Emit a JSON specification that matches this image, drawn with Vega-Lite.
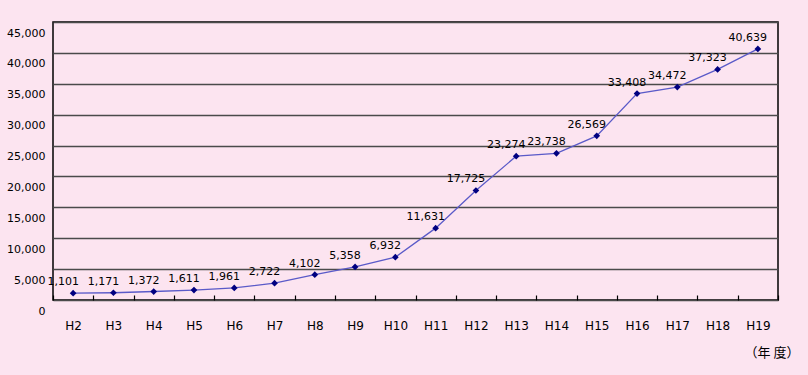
{
  "$schema": "https://vega.github.io/schema/vega-lite/v6.json",
  "width": 725,
  "height": 278,
  "autosize": {"type": "none"},
  "padding": {"left": 53, "top": 22, "right": 30, "bottom": 75},
  "background": "#FCE4F0",
  "config": {
    "font": "DejaVu Sans",
    "view": {"stroke": "#000000", "strokeWidth": 1.5, "fill": "#FCE4F0"}
  },
  "data": {
    "values": [
      {"year": "H2", "value": 1101},
      {"year": "H3", "value": 1171},
      {"year": "H4", "value": 1372},
      {"year": "H5", "value": 1611},
      {"year": "H6", "value": 1961},
      {"year": "H7", "value": 2722},
      {"year": "H8", "value": 4102},
      {"year": "H9", "value": 5358},
      {"year": "H10", "value": 6932},
      {"year": "H11", "value": 11631},
      {"year": "H12", "value": 17725},
      {"year": "H13", "value": 23274},
      {"year": "H14", "value": 23738},
      {"year": "H15", "value": 26569},
      {"year": "H16", "value": 33408},
      {"year": "H17", "value": 34472},
      {"year": "H18", "value": 37323},
      {"year": "H19", "value": 40639}
    ]
  },
  "encoding": {
    "x": {
      "field": "year",
      "type": "ordinal",
      "sort": null,
      "scale": {"type": "band", "paddingInner": 0, "paddingOuter": 0},
      "axis": {
        "title": "（年 度）",
        "titleFont": "Noto Sans CJK JP",
        "titleFontSize": 13,
        "titleFontWeight": "normal",
        "titleAlign": "right",
        "titleAnchor": "end",
        "titleX": 746,
        "titleY": 57,
        "titleBaseline": "middle",
        "offset": -5,
        "labelAngle": 0,
        "labelFontSize": 12,
        "labelColor": "#000000",
        "labelPadding": 20,
        "tickBand": "extent",
        "tickSize": 5,
        "tickWidth": 1.2,
        "tickColor": "#000000",
        "domain": false,
        "grid": false
      }
    },
    "y": {
      "field": "value",
      "type": "quantitative",
      "scale": {"domain": [0, 45000], "nice": false},
      "axis": {
        "title": null,
        "values": [0, 5000, 10000, 15000, 20000, 25000, 30000, 35000, 40000, 45000],
        "format": ",d",
        "labelFontSize": 11,
        "labelColor": "#000000",
        "labelOffset": 11,
        "labelPadding": 8,
        "ticks": false,
        "domain": false,
        "grid": true,
        "gridColor": "#4a4a4a",
        "gridWidth": 1.5
      }
    }
  },
  "layer": [
    {
      "mark": {"type": "line", "color": "#5a5ac8", "strokeWidth": 1.3}
    },
    {
      "mark": {"type": "point", "shape": "diamond", "filled": true, "color": "#000080", "size": 45, "opacity": 1}
    },
    {
      "mark": {"type": "text", "fontSize": 11, "color": "#000000", "dy": -11, "dx": -10},
      "encoding": {"text": {"field": "value", "type": "quantitative", "format": ",d"}}
    }
  ]
}
